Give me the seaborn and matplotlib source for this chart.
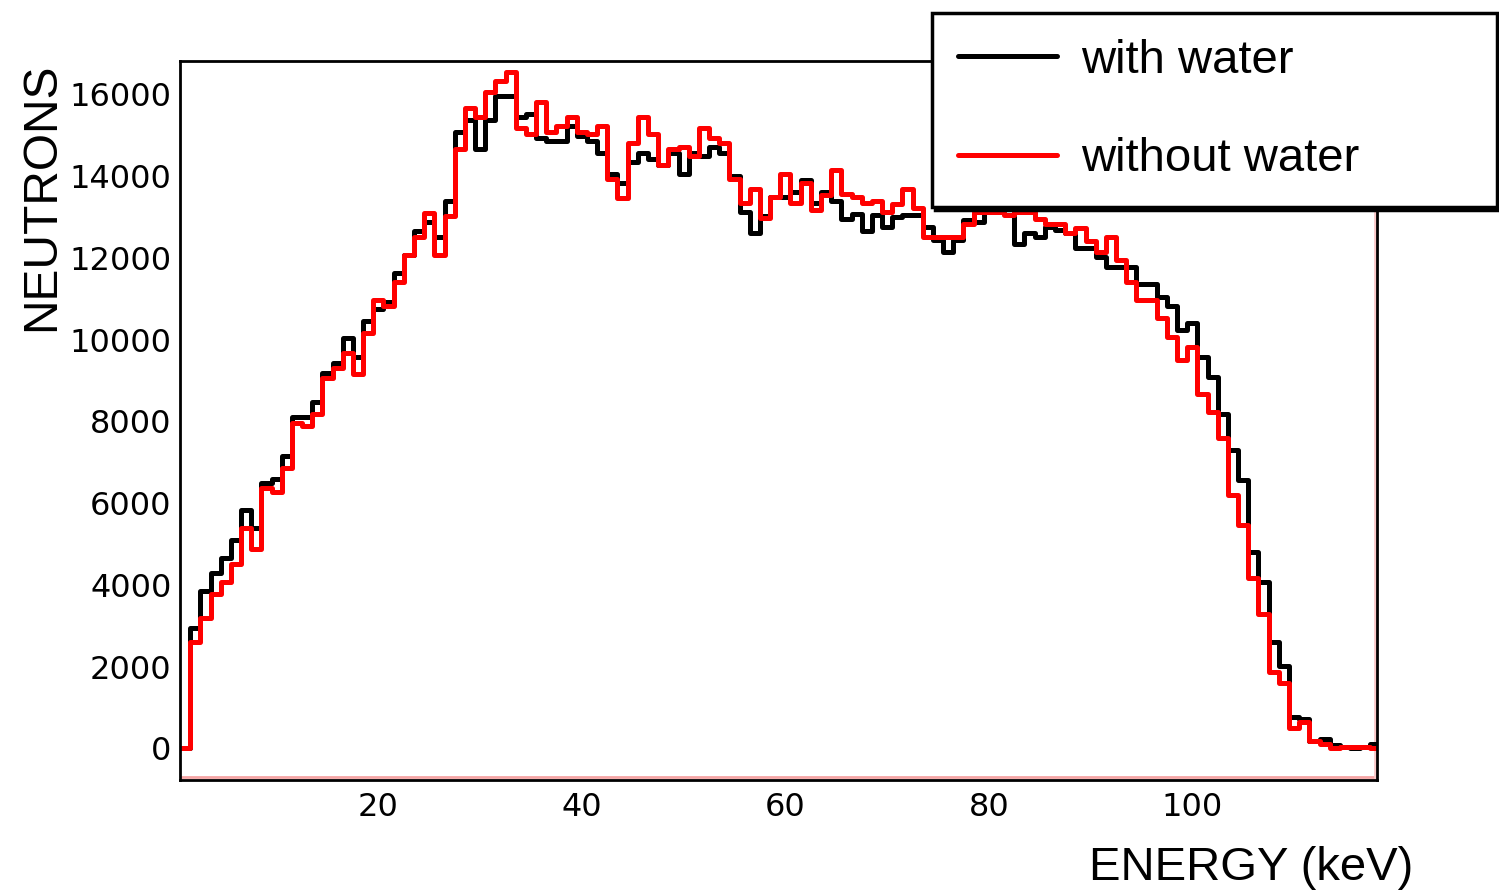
import pandas as pd
import matplotlib
matplotlib.use('Agg')
import matplotlib.pyplot as plt
from matplotlib.lines import Line2D
from matplotlib.ticker import MultipleLocator
import seaborn as sns

# energy bins (keV), 1 keV wide, centred on integers
energy = list(range(1, 119))

with_water = [
    0, 2950, 3850, 4300, 4650, 5100, 5830, 5400, 6500, 6600,
    7150, 8100, 8100, 8480, 9170, 9430, 10030, 9580, 10460, 10760,
    10920, 11630, 12080, 12650, 12880, 12510, 13390, 15080, 15370, 14650,
    15370, 15970, 15970, 15450, 15530, 14920, 14860, 14860, 15230, 14980,
    14860, 14570, 14060, 13840, 14350, 14570, 14420, 14280, 14570, 14060,
    14560, 14500, 14720, 14570, 14000, 13130, 12600, 13020, 13480, 13480,
    13620, 13900, 13330, 13620, 13400, 12950, 13070, 12660, 13050, 12750,
    13000, 13050, 13050, 12750, 12430, 12150, 12430, 12920, 12880, 13300,
    13250, 13200, 12350, 12600, 12520, 12760, 12680, 12600, 12230, 12230,
    12010, 11780, 11780, 11780, 11350, 11350, 11050, 10830, 10230, 10400,
    9580, 9080, 8190, 7300, 6560, 4810, 4080, 2610, 2020, 770,
    720, 190, 220, 90, 40, 0, 40, 110,
]

without_water = [
    0, 2600, 3200, 3780, 4080, 4520, 5400, 4880, 6360, 6280,
    6850, 7950, 7890, 8190, 9070, 9300, 9660, 9150, 10170, 10980,
    10830, 11410, 12080, 12520, 13100, 12080, 13030, 14650, 15670, 15450,
    16050, 16330, 16550, 15170, 15030, 15820, 15080, 15230, 15450, 15080,
    15030, 15230, 13920, 13470, 14800, 15450, 15020, 14280, 14650, 14720,
    14500, 15170, 14940, 14800, 13920, 13330, 13680, 12970, 13480, 14050,
    13330, 13820, 13170, 13540, 14150, 13560, 13480, 13330, 13400, 13110,
    13320, 13680, 13230, 12520, 12520, 12520, 12520, 12820, 13130, 13130,
    13130, 13050, 13130, 13130, 12940, 12820, 12820, 12600, 12740, 12400,
    12150, 12520, 11940, 11420, 10970, 10970, 10520, 10070, 9500, 9830,
    8680, 8230, 7580, 6200, 5460, 4160, 3280, 1870, 1590, 490,
    650, 190, 110, 0, 40, 40, 40, 0,
]

series_labels = ['with water', 'without water']
series_colors = ['black', 'red']

sns.set_theme(style='white')
plt.rcParams['font.family'] = ['Liberation Sans', 'DejaVu Sans']
plt.rcParams['text.color'] = 'black'
plt.rcParams['axes.labelcolor'] = 'black'

fig = plt.figure(figsize=(14.99, 8.92), dpi=100)
ax = fig.add_axes([180 / 1499, 1 - 780 / 892, 1197 / 1499, 719 / 892])

for vals, col in zip([with_water, without_water], series_colors):
    df = pd.DataFrame({'energy': energy, 'neutrons': vals})
    sns.histplot(data=df, x='energy', weights='neutrons', binwidth=1,
                 binrange=(0.5, 118.5), element='step', fill=False,
                 color=col, linewidth=3.6, ax=ax)

ax.set_xlim(0.5, 118.15)
ax.set_ylim(-775, 16815)

# ROOT style faint red frame lines just inside the axes
ax.axhline(-700, color='#f5a5a5', lw=2, zorder=1)
ax.axvline(118.0, color='#f9c8c8', lw=2, zorder=1)

ax.xaxis.set_minor_locator(MultipleLocator(5))
ax.yaxis.set_minor_locator(MultipleLocator(500))
ax.set_xticks([20, 40, 60, 80, 100])
ax.set_yticks(range(0, 16001, 2000))

ax.tick_params(axis='x', which='major', direction='in', length=17, width=1.6,
               pad=9, labelsize=23, colors='black')
ax.tick_params(axis='x', which='minor', direction='in', length=8.5, width=1.6)
ax.tick_params(axis='y', which='major', direction='in', length=25, width=1.6,
               pad=6, labelsize=23, colors='black')
ax.tick_params(axis='y', which='minor', direction='in', length=14, width=1.6)
for lab in ax.get_xticklabels() + ax.get_yticklabels():
    lab.set_family('DejaVu Sans')

for sp in ax.spines.values():
    sp.set_color('black')
    sp.set_linewidth(2)

ax.set_ylabel('NEUTRONS', fontsize=34.5, loc='top', color='black')
ax.yaxis.set_label_coords(-0.097, 0.998)
ax.set_xlabel('ENERGY (keV)', fontsize=34, loc='right', color='black')
ax.xaxis.set_label_coords(1.03, -0.092)

handles = [Line2D([], [], color=c, lw=3.6) for c in series_colors]
leg = fig.legend(handles, series_labels, loc='upper left',
                 bbox_to_anchor=(932 / 1499, 1 - 13 / 892, 565 / 1499, 0),
                 mode='expand', fontsize=34, frameon=True, fancybox=False,
                 shadow={'color': 'black', 'alpha': 1.0},
                 handlelength=2.1, handletextpad=0.5, labelspacing=1.15,
                 borderpad=0.55, borderaxespad=0)
leg.get_frame().set_edgecolor('black')
leg.get_frame().set_linewidth(2.5)
leg.get_frame().set_facecolor('white')
for t in leg.get_texts():
    t.set_color('black')

fig.savefig('out.png', dpi=100)
